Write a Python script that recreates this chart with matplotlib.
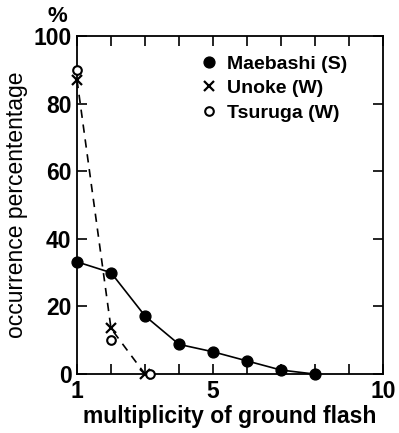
import matplotlib
matplotlib.use("Agg")
import matplotlib.pyplot as plt

plt.rcParams["font.family"] = ["Liberation Sans", "DejaVu Sans"]

# ── Data ───────────────────────────────────────────────────────────────────────
maebashi_x = [1, 2, 3, 4, 5, 6, 7, 8]
maebashi_y = [33.2, 30.0, 17.2, 8.8, 6.6, 3.9, 1.2, 0.0]

unoke_x = [1, 2, 3]
unoke_y = [87.0, 13.5, 0.0]

tsuruga_x = [1, 2, 3.15]
tsuruga_y = [90.0, 10.0, 0.0]

x_ticks = [1, 2, 3, 4, 5, 6, 7, 8, 9, 10]
x_labels = ["1", "", "", "", "5", "", "", "", "", "10"]
y_ticks = [0, 20, 40, 60, 80, 100]


def main():
    fig = plt.figure(figsize=(3.99, 4.33), dpi=100)
    ax = fig.add_axes([0.193, 0.136, 0.767, 0.781])

    ax.plot(maebashi_x, maebashi_y, color="black", lw=1.2, marker="o",
            ms=7.8, mfc="black", mec="black", clip_on=False,
            label="Maebashi (S)", zorder=3)
    ax.plot(unoke_x, unoke_y, color="black", lw=1.2, ls=(0, (5, 4)),
            marker="x", ms=7, mew=1.6, clip_on=False,
            label="Unoke (W)", zorder=3)
    ax.plot(tsuruga_x, tsuruga_y, ls="none", marker="o", ms=6.2,
            mfc="white", mec="black", mew=1.5, clip_on=False,
            label="Tsuruga (W)", zorder=4)

    ax.set_xlim(1, 10)
    ax.set_ylim(0, 100)
    ax.set_xticks(x_ticks)
    ax.set_xticklabels(x_labels)
    ax.set_yticks(y_ticks)
    ax.tick_params(direction="in", length=7, width=1.2, top=True, right=True,
                   labelsize=16.5, pad=4)
    for lab in ax.get_xticklabels() + ax.get_yticklabels():
        lab.set_fontweight("bold")
    for s in ax.spines.values():
        s.set_linewidth(1.3)

    ax.set_xlabel("multiplicity of ground flash", fontsize=16.5,
                  fontweight="bold", labelpad=2)
    ax.set_ylabel("occurrence percententage", fontsize=16.5, labelpad=4)
    ax.text(-0.065, 1.025, "%", transform=ax.transAxes, fontsize=16,
            fontweight="bold", ha="center", va="bottom")

    leg = ax.legend(loc="upper left", bbox_to_anchor=(0.345, 0.995),
                    frameon=False, fontsize=14, handlelength=0.9,
                    handletextpad=0.5, labelspacing=0.35)
    for h in leg.legend_handles:
        h.set_linestyle("none")
    for t in leg.get_texts():
        t.set_fontweight("bold")

    fig.savefig("out.png", dpi=100)


if __name__ == "__main__":
    main()
